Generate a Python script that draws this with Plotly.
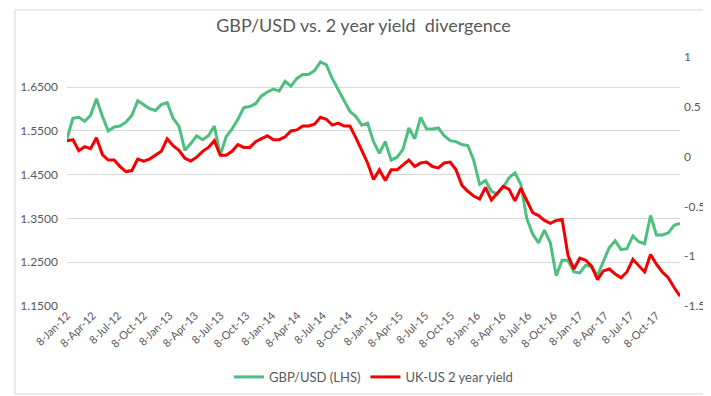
import pandas as pd
import plotly.graph_objects as go

# ---- data (3-weekly samples) ----
dates = pd.date_range("2012-01-08", periods=105, freq="21D")

gbpusd = [
    1.5322, 1.5789, 1.5811, 1.5722, 1.5856, 1.6233, 1.5833, 1.5500, 1.5589, 1.5611,
    1.5700, 1.5856, 1.6189, 1.6100, 1.6011, 1.5967, 1.6100, 1.6144, 1.5789, 1.5611,
    1.5056, 1.5211, 1.5389, 1.5300, 1.5389, 1.5611, 1.4944, 1.5367, 1.5544, 1.5767,
    1.6033, 1.6056, 1.6122, 1.6300, 1.6389, 1.6456, 1.6411, 1.6633, 1.6522, 1.6700,
    1.6789, 1.6789, 1.6878, 1.7078, 1.7011, 1.6700, 1.6456, 1.6211, 1.5944, 1.5833,
    1.5633, 1.5678, 1.5256, 1.4989, 1.5256, 1.4833, 1.4900, 1.5078, 1.5567, 1.5322,
    1.5811, 1.5544, 1.5544, 1.5567, 1.5389, 1.5278, 1.5256, 1.5189, 1.5167, 1.4833,
    1.4278, 1.4367, 1.4122, 1.4056, 1.4211, 1.4433, 1.4544, 1.4278, 1.3500, 1.3144,
    1.2944, 1.3233, 1.2944, 1.2189, 1.2544, 1.2544, 1.2278, 1.2256, 1.2433, 1.2389,
    1.2189, 1.2522, 1.2833, 1.2989, 1.2789, 1.2811, 1.3100, 1.2967, 1.2922, 1.3567,
    1.3122, 1.3122, 1.3167, 1.3344, 1.3389,
]

uk_us_2y = [
    0.160, 0.170, 0.060, 0.100, 0.080, 0.190, 0.020, -0.035, -0.035, -0.100,
    -0.150, -0.140, -0.025, -0.045, -0.025, 0.014, 0.053, 0.180, 0.110, 0.062,
    -0.016, -0.045, -0.006, 0.053, 0.092, 0.160, 0.014, 0.014, 0.053, 0.121,
    0.092, 0.092, 0.150, 0.180, 0.209, 0.170, 0.170, 0.199, 0.258, 0.268,
    0.307, 0.307, 0.326, 0.395, 0.375, 0.316, 0.336, 0.307, 0.307, 0.190,
    0.062, -0.064, -0.230, -0.133, -0.240, -0.133, -0.133, -0.084, -0.035, -0.100,
    -0.064, -0.055, -0.100, -0.113, -0.064, -0.055, -0.133, -0.289, -0.348, -0.396,
    -0.426, -0.309, -0.436, -0.367, -0.299, -0.328, -0.445, -0.318, -0.436, -0.562,
    -0.592, -0.641, -0.670, -0.641, -0.631, -0.992, -1.129, -1.020, -1.041, -1.100,
    -1.236, -1.148, -1.129, -1.178, -1.217, -1.158, -1.031, -1.100, -1.158, -0.982,
    -1.080, -1.158, -1.217, -1.314, -1.402,
]

x_tick_dates = [pd.Timestamp(y, m, 8) for y in range(2012, 2018) for m in (1, 4, 7, 10)]
left_ticks = [1.15, 1.25, 1.35, 1.45, 1.55, 1.65]
right_ticks = [-1.5, -1.0, -0.5, 0.0, 0.5, 1.0]
right_tick_text = ["-1.5", "-1", "-0.5", "0", "0.5", "1"]

GREEN = "#4DBF7F"
RED = "#F40000"
GRAY = "#595959"
GRID = "#D9D9D9"
FONT = "Lato, 'Open Sans', sans-serif"

fig = go.Figure()
fig.add_trace(go.Scatter(x=dates, y=gbpusd, name="GBP/USD (LHS)", mode="lines",
                         line=dict(color=GREEN, width=3), yaxis="y"))
fig.add_trace(go.Scatter(x=dates, y=uk_us_2y, name="UK-US 2 year yield", mode="lines",
                         line=dict(color=RED, width=3), yaxis="y2"))

fig.update_layout(
    width=711, height=396,
    paper_bgcolor="white", plot_bgcolor="white",
    margin=dict(l=53, r=39, t=49, b=91),
    font=dict(family=FONT, color=GRAY, size=12),
    title=dict(text="GBP/USD vs. 2 year yield  divergence", x=0.5, xanchor="center",
               y=0.955, yanchor="middle", font=dict(family=FONT, size=18, color=GRAY)),
    xaxis=dict(type="date", range=[dates[0], dates[-1]], tickvals=x_tick_dates,
               tickformat="%-d-%b-%y", tickangle=-45, showgrid=False, zeroline=False,
               showline=False, ticks="", tickfont=dict(size=11, color=GRAY)),
    yaxis=dict(range=[1.15, 1.7189], tickvals=left_ticks, tickformat=".4f",
               showgrid=True, gridcolor=GRID, gridwidth=1, zeroline=False,
               showline=False, ticks="", ticklabelstandoff=8,
               tickfont=dict(size=12, color=GRAY)),
    yaxis2=dict(range=[-1.5, 1.0], tickvals=right_ticks, ticktext=right_tick_text,
                overlaying="y", side="right", showgrid=False, zeroline=False,
                showline=False, ticks="", ticklabelstandoff=3,
                tickfont=dict(size=12, color=GRAY)),
    legend=dict(orientation="h", x=0.5, xanchor="center", y=-0.285, yanchor="middle",
                font=dict(size=13, color=GRAY), itemwidth=30, bgcolor="rgba(0,0,0,0)"),
    showlegend=True,
)

fig.add_shape(type="rect", xref="paper", yref="paper",
              x0=-0.0848, x1=1.0622, y0=-0.3535, y1=1.1895,
              line=dict(color=GRID, width=1), fillcolor="rgba(0,0,0,0)", layer="below")

fig.write_html("out.html")
